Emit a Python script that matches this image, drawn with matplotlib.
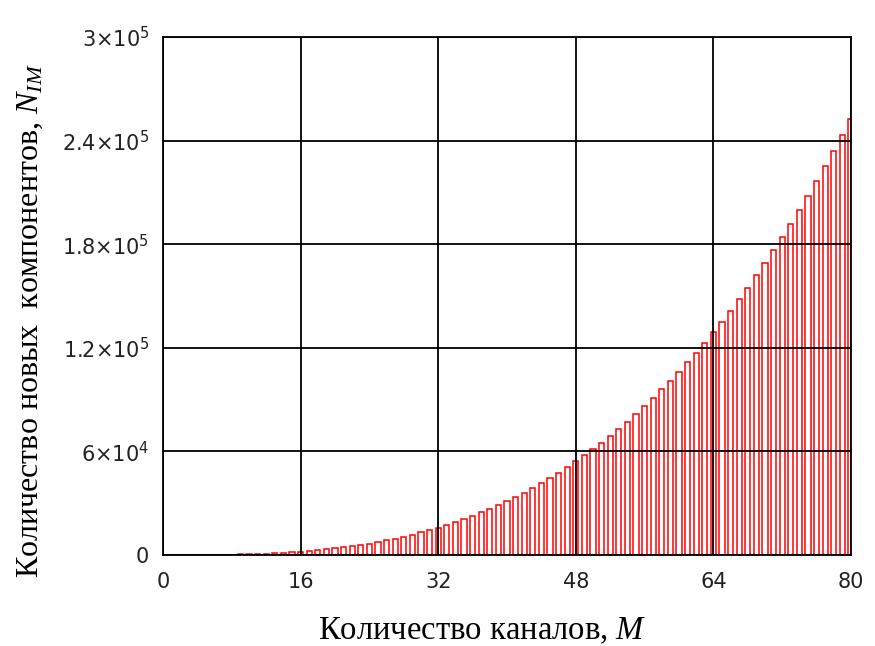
import matplotlib
matplotlib.use("Agg")
import matplotlib.pyplot as plt
from matplotlib.ticker import FixedLocator, FixedFormatter

plt.rcParams["mathtext.fontset"] = "custom"
plt.rcParams["mathtext.rm"] = "Liberation Serif"
plt.rcParams["mathtext.it"] = "Liberation Serif:italic"
plt.rcParams["mathtext.sf"] = "DejaVu Sans"

# number of channels and count of new (intermodulation) components
channels = list(range(1, 81))
n_im = [
    0, 2, 9, 24, 50, 90, 147, 224, 324, 450,
    605, 792, 1014, 1274, 1575, 1920, 2312, 2754, 3249, 3800,
    4410, 5082, 5819, 6624, 7500, 8450, 9477, 10584, 11774, 13050,
    14415, 15872, 17424, 19074, 20825, 22680, 24642, 26714, 28899, 31200,
    33620, 36162, 38829, 41624, 44550, 47610, 50807, 54144, 57624, 61250,
    65025, 68952, 73034, 77274, 81675, 86240, 90972, 95874, 100949, 106200,
    111630, 117242, 123039, 129024, 135200, 141570, 148137, 154904, 161874, 169050,
    176435, 184032, 191844, 199874, 208125, 216600, 225302, 234234, 243399, 252800,
]

x_ticks = [0, 16, 32, 48, 64, 80]
y_ticks = [0, 60000, 120000, 180000, 240000, 300000]
y_tick_labels = [
    r"$\mathsf{0}$",
    r"$\mathsf{6{\times}10^{4}}$",
    r"$\mathsf{1.2{\times}10^{5}}$",
    r"$\mathsf{1.8{\times}10^{5}}$",
    r"$\mathsf{2.4{\times}10^{5}}$",
    r"$\mathsf{3{\times}10^{5}}$",
]

fig = plt.figure(figsize=(8.75, 6.46), dpi=100)
ax = fig.add_axes([0.1863, 0.1409, 0.7863, 0.8018])

ax.bar(channels, n_im, width=0.6, facecolor="none", edgecolor="#ff0000",
       linewidth=1.1, zorder=1)

ax.set_xlim(0, 80)
ax.set_ylim(0, 300000)
ax.xaxis.set_major_locator(FixedLocator(x_ticks))
ax.yaxis.set_major_locator(FixedLocator(y_ticks))
ax.yaxis.set_major_formatter(FixedFormatter(y_tick_labels))
ax.tick_params(length=0, labelsize=15, colors="#222222")
ax.tick_params(axis="x", pad=12)
ax.tick_params(axis="y", pad=10)

ax.grid(True, color="black", linewidth=1.3)
ax.set_axisbelow(False)
for s in ax.spines.values():
    s.set_linewidth(1.3)
    s.set_zorder(3)

ax.set_xlabel(r"Количество каналов, $\mathit{M}$", family="Liberation Serif",
              fontsize=23.5, va="center")
ax.xaxis.set_label_coords(0.4637, -0.147)
ax.set_ylabel(r"Количество новых  компонентов, $\mathit{N_{IM}}$",
              family="Liberation Serif", fontsize=23, va="center")
ax.yaxis.set_label_coords(-0.193, 0.452)

fig.savefig("out.png", dpi=100)
